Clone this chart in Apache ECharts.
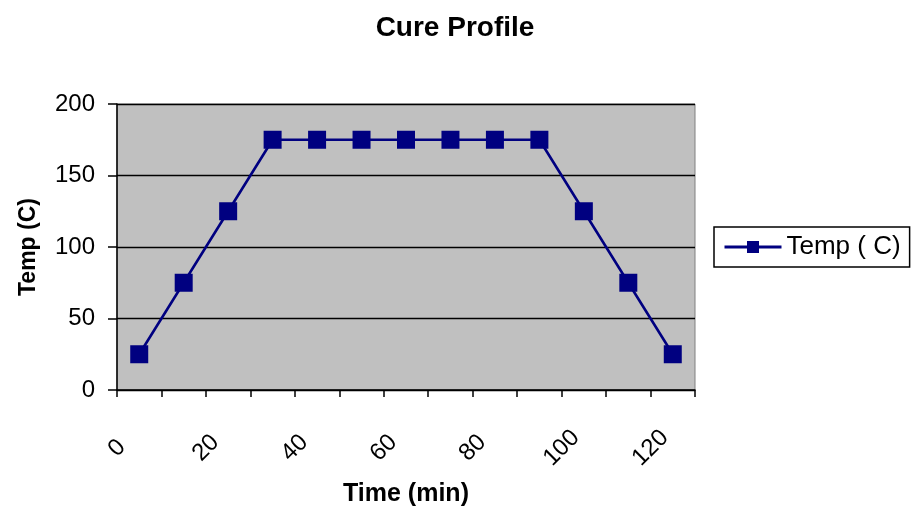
<!DOCTYPE html>
<html><head><meta charset="utf-8">
<script src="https://cdn.jsdelivr.net/npm/echarts@6/dist/echarts.min.js"></script>
<style>html,body{margin:0;padding:0;background:#fff}#c{width:911px;height:508px}</style>
</head><body><div id="c"></div>
<script>
const timeMin = [5, 15, 25, 35, 45, 55, 65, 75, 85, 95, 105, 115, 125];
const tempC = [25, 75, 125, 175, 175, 175, 175, 175, 175, 175, 125, 75, 25];
const xTickLabels = [0, 20, 40, 60, 80, 100, 120];

const chart = echarts.init(document.getElementById('c'), null, {renderer: 'canvas'});
const F = 'Liberation Sans, Arial, sans-serif';
chart.setOption({
  animation: false,
  title: {
    text: 'Cure Profile', left: 450, top: 9, textAlign: 'center',
    textStyle: {fontFamily: F, fontSize: 28, fontWeight: 'bold', color: '#000'}
  },
  legend: {
    left: 714, top: 227,
    padding: [7, 9, 7, 9],
    borderColor: '#000', borderWidth: 1.5,
    itemWidth: 57, itemHeight: 15, itemGap: 4,
    lineStyle: {width: 3, color: '#000080'},
    textStyle: {fontFamily: F, fontSize: 26, color: '#000'},
    data: ['Temp ( C)']
  },
  grid: {
    left: 117, right: 216, top: 104, bottom: 118,
    outerBoundsMode: 'none', containLabel: false,
    show: true, backgroundColor: '#C0C0C0', borderColor: '#808080', borderWidth: 1
  },
  xAxis: {
    type: 'value', min: 0, max: 130, interval: 10,
    name: 'Time (min)', nameLocation: 'middle', nameGap: 92,
    nameTextStyle: {fontFamily: F, fontSize: 25, fontWeight: 'bold', color: '#000'},
    axisLine: {lineStyle: {color: '#000', width: 1.5}},
    axisTick: {show: true, length: 7, inside: false, lineStyle: {color: '#000', width: 1.5}},
    splitLine: {show: false},
    axisLabel: {
      rotate: 45, margin: 58, align: 'center', verticalAlign: 'middle',
      fontFamily: F, fontSize: 24, color: '#000',
      formatter: v => xTickLabels.includes(v) ? String(v) : ''
    }
  },
  yAxis: {
    type: 'value', min: 0, max: 200, interval: 50,
    name: 'Temp (C)', nameLocation: 'middle', nameGap: 77, nameRotate: 90,
    nameTextStyle: {fontFamily: F, fontSize: 23, fontWeight: 'bold', color: '#000'},
    axisLine: {show: true, lineStyle: {color: '#000', width: 1.5}},
    axisTick: {show: true, length: 9, inside: false, lineStyle: {color: '#000', width: 1.5}},
    splitLine: {show: true, lineStyle: {color: '#000', width: 1.4}},
    axisLabel: {margin: 22, fontFamily: F, fontSize: 24, color: '#000'}
  },
  series: [{
    name: 'Temp ( C)', type: 'line',
    data: timeMin.map((t, i) => [t, tempC[i]]),
    symbol: 'rect', symbolSize: 18,
    lineStyle: {color: '#000080', width: 2.6},
    itemStyle: {color: '#000080'}
  }]
});
</script></body></html>
